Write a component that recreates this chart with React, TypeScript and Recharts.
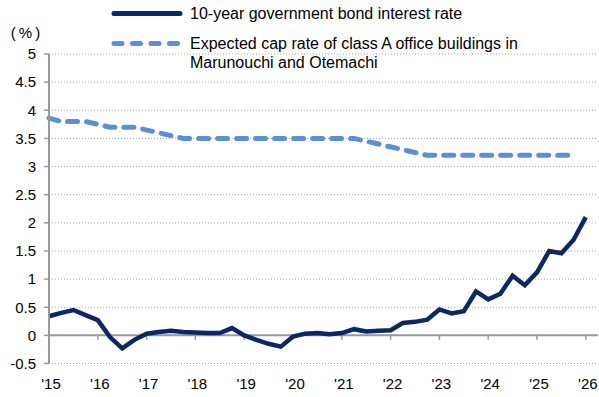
import {
  LineChart,
  Line,
  XAxis,
  YAxis,
  CartesianGrid,
  ReferenceLine,
  Legend,
} from "recharts";

const FONT = "'Liberation Sans', Arial, sans-serif";
const NAVY = "#0b2766";
const LIGHT = "#5b8fd8";
const AXIS = "#999999";

// quarterly points, '15 .. '26
const quarters = Array.from({ length: 45 }, (_, i) => 2015 + i / 4);

const bondRate = [
  0.34, 0.4, 0.45, 0.36, 0.27, -0.03, -0.23, -0.08,
  0.03, 0.06, 0.08, 0.06, 0.05, 0.04, 0.04, 0.13,
  0.0, -0.08, -0.15, -0.2, -0.02, 0.03, 0.04, 0.02,
  0.04, 0.11, 0.07, 0.08, 0.09, 0.22, 0.24, 0.28,
  0.46, 0.39, 0.43, 0.78, 0.64, 0.74, 1.06, 0.89,
  1.12, 1.5, 1.46, 1.7, 2.1,
];

// survey values (April / October), null between surveys
const capRate = [
  3.86, 3.8, null, 3.8, null, 3.7, null, 3.7,
  null, 3.6, null, 3.5, null, 3.5, null, 3.5,
  null, 3.5, null, 3.5, null, 3.5, null, 3.5,
  null, 3.5, null, 3.4, null, 3.3, null, 3.2,
  null, 3.2, null, 3.2, null, 3.2, null, 3.2,
  null, 3.2, null, 3.2, null,
];

const yearTicks = [2015, 2016, 2017, 2018, 2019, 2020, 2021, 2022, 2023, 2024, 2025, 2026];
const yTicks = [-0.5, 0, 0.5, 1, 1.5, 2, 2.5, 3, 3.5, 4, 4.5, 5];

const bondName = "10-year government bond interest rate";
const capName = "Expected cap rate of class A office buildings in Marunouchi and Otemachi";

const data = quarters.map((q, i) => ({
  q,
  bond: bondRate[i],
  cap: capRate[i],
}));

function LegendBox(props: any) {
  const items = props.payload || [];
  const rowTops = [3.5, 33.5];
  return (
    <div style={{ position: "relative", width: 599, height: 75, fontFamily: FONT, fontSize: 16, color: "#000" }}>
      {items.map((item: any, i: number) => {
        const dashed = item.dataKey === "cap";
        return (
          <div key={i}>
            <svg
              width={80}
              height={20}
              style={{ position: "absolute", left: 107, top: rowTops[i] }}
            >
              <line
                x1={7}
                y1={9.5}
                x2={73}
                y2={9.5}
                stroke={dashed ? LIGHT : NAVY}
                strokeWidth={5}
                strokeLinecap="round"
                strokeDasharray={dashed ? "8 10.5" : undefined}
              />
            </svg>
            <div
              style={{
                position: "absolute",
                left: 190,
                top: rowTops[i],
                width: 345,
                lineHeight: "19px",
              }}
            >
              {item.value}
            </div>
          </div>
        );
      })}
    </div>
  );
}

function UnitLabel(props: any) {
  const vb = props.viewBox || { x: 0, y: 54, width: 49 };
  return (
    <text
      x={vb.x + 27}
      y={vb.y - 16}
      textAnchor="middle"
      fontFamily={FONT}
      fontSize={15}
      letterSpacing={3}
      fill="#000"
    >
      (%)
    </text>
  );
}

export default function App() {
  return (
    <div style={{ position: "absolute", left: 0, top: 0, background: "#fff" }}>
      <LineChart
        width={599}
        height={397}
        data={data}
        margin={{ top: 54, right: 1, left: 0, bottom: 0 }}
      >
        <CartesianGrid
          vertical={false}
          stroke="#a6a6a6"
          strokeDasharray="1 2"
        />
        <XAxis
          dataKey="q"
          type="number"
          domain={[2015, 2026.25]}
          ticks={yearTicks}
          tickFormatter={(v: number) => "'" + String(v).slice(2)}
          height={33.5}
          axisLine={false}
          tickLine={false}
          tickSize={0}
          tickMargin={14.5}
          interval={0}
          tick={{ fill: "#000", fontSize: 15, fontFamily: FONT, dx: 2 }}
        />
        <YAxis
          domain={[-0.5, 5]}
          ticks={yTicks}
          width={49}
          interval={0}
          axisLine={{ stroke: AXIS, strokeWidth: 2 }}
          tickLine={{ stroke: AXIS, strokeWidth: 1.5 }}
          tickSize={5}
          tickMargin={8}
          tick={{ fill: "#000", fontSize: 15, fontFamily: FONT }}
          label={<UnitLabel />}
        />
        <ReferenceLine y={0} stroke={AXIS} strokeWidth={2} />
        {yearTicks.map((yr) => (
          <ReferenceLine
            key={yr}
            segment={[
              { x: yr, y: 0 },
              { x: yr, y: -0.08 },
            ]}
            stroke={AXIS}
            strokeWidth={1.5}
          />
        ))}
        <Legend
          layout="horizontal"
          verticalAlign="middle"
          align="center"
          wrapperStyle={{ top: 0, left: 0, width: 599, height: 75 }}
          content={<LegendBox />}
        />
        <Line
          name={bondName}
          dataKey="bond"
          type="linear"
          stroke={NAVY}
          strokeWidth={4.5}
          dot={false}
          activeDot={false}
          isAnimationActive={false}
        />
        <Line
          name={capName}
          dataKey="cap"
          type="linear"
          stroke={LIGHT}
          strokeWidth={5}
          strokeLinecap="round"
          strokeDasharray="10 9"
          dot={false}
          activeDot={false}
          connectNulls
          isAnimationActive={false}
        />
      </LineChart>
    </div>
  );
}
